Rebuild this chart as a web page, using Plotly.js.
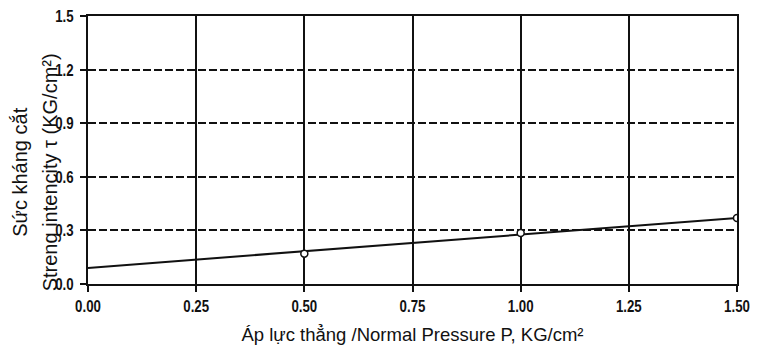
<!DOCTYPE html>
<html>
<head>
<meta charset="utf-8">
<script src="https://cdn.plot.ly/plotly-3.0.1.min.js"></script>
<style>
  html, body { margin: 0; padding: 0; background: #fff; }
  #chart { width: 765px; height: 354px; }
</style>
</head>
<body>
<div id="chart"></div>
<script>
// Shear test results: normal pressure vs. shear strength
const pressure = [0.5, 1.0, 1.5];
const shearStrength = [0.17, 0.285, 0.37];

// Strength envelope (trend line) end points
const envelopeX = [0.0, 1.5];
const envelopeY = [0.09, 0.37];

const xTickVals = [0, 0.25, 0.5, 0.75, 1.0, 1.25, 1.5];
const xTickText = ['0.00', '0.25', '0.50', '0.75', '1.00', '1.25', '1.50'];
const yTickVals = [0, 0.3, 0.6, 0.9, 1.2, 1.5];
const yTickText = ['0.0', '0.3', '0.6', '0.9', '1.2', '1.5'];

const tickFamily = '"Liberation Sans", Arial, sans-serif';
const regular = '"Liberation Sans", Arial, sans-serif';

const traces = [
  {
    x: envelopeX,
    y: envelopeY,
    mode: 'lines',
    line: { color: '#111', width: 2 },
    hoverinfo: 'skip',
    showlegend: false
  },
  {
    x: pressure,
    y: shearStrength,
    mode: 'markers',
    marker: { symbol: 'circle', size: 7, color: '#fff', line: { color: '#111', width: 1.5 } },
    showlegend: false
  }
];

const layout = {
  width: 765,
  height: 354,
  margin: { l: 88, r: 28, t: 16, b: 70 },
  paper_bgcolor: '#fff',
  plot_bgcolor: '#fff',
  showlegend: false,
  xaxis: {
    range: [0, 1.5],
    tickvals: xTickVals,
    ticktext: xTickText,
    showgrid: true,
    gridcolor: '#111',
    gridwidth: 2,
    zeroline: false,
    showline: true,
    linecolor: '#111',
    linewidth: 2,
    mirror: true,
    ticks: 'outside',
    ticklen: 6,
    tickwidth: 2,
    tickcolor: '#111',
    tickfont: { family: tickFamily, size: 17, weight: 'bold', color: '#111' },
    title: {
      text: 'Áp lực thẳng /Normal Pressure P, KG/cm²',
      font: { family: regular, size: 18.5, color: '#111' },
      standoff: 13
    },
    automargin: false
  },
  yaxis: {
    range: [0, 1.5],
    tickvals: yTickVals,
    ticktext: yTickText,
    showgrid: true,
    gridcolor: '#111',
    gridwidth: 2,
    griddash: '8px,3px',
    zeroline: false,
    showline: true,
    linecolor: '#111',
    linewidth: 2,
    mirror: true,
    ticks: 'outside',
    ticklen: 6,
    tickwidth: 2,
    tickcolor: '#111',
    ticklabelstandoff: 3,
    tickfont: { family: tickFamily, size: 17, weight: 'bold', color: '#111' },
    automargin: false
  },
  annotations: [
    {
      text: 'Sức kháng cắt',
      xref: 'paper', yref: 'paper',
      x: -0.105, y: 0.418,
      xanchor: 'center', yanchor: 'middle',
      textangle: -90,
      showarrow: false,
      font: { family: regular, size: 20, color: '#111' }
    },
    {
      text: 'Streng intencity τ (KG/cm²)',
      xref: 'paper', yref: 'paper',
      x: -0.058, y: 0.418,
      xanchor: 'center', yanchor: 'middle',
      textangle: -90,
      showarrow: false,
      font: { family: regular, size: 20, color: '#111' }
    }
  ]
};

// Narrow the tick labels horizontally around their own anchor point
function condenseTickLabels(gd, factor) {
  gd.querySelectorAll('.xtick text, .ytick text').forEach(function (t) {
    const x = parseFloat(t.getAttribute('x')) || 0;
    const tr = t.getAttribute('transform') || '';
    t.setAttribute('transform',
      tr + ' translate(' + x + ',0) scale(' + factor + ',1) translate(' + (-x) + ',0)');
  });
}

Plotly.newPlot('chart', traces, layout, { displayModeBar: false, staticPlot: true })
  .then(function (gd) { condenseTickLabels(gd, 0.78); });
</script>
</body>
</html>
